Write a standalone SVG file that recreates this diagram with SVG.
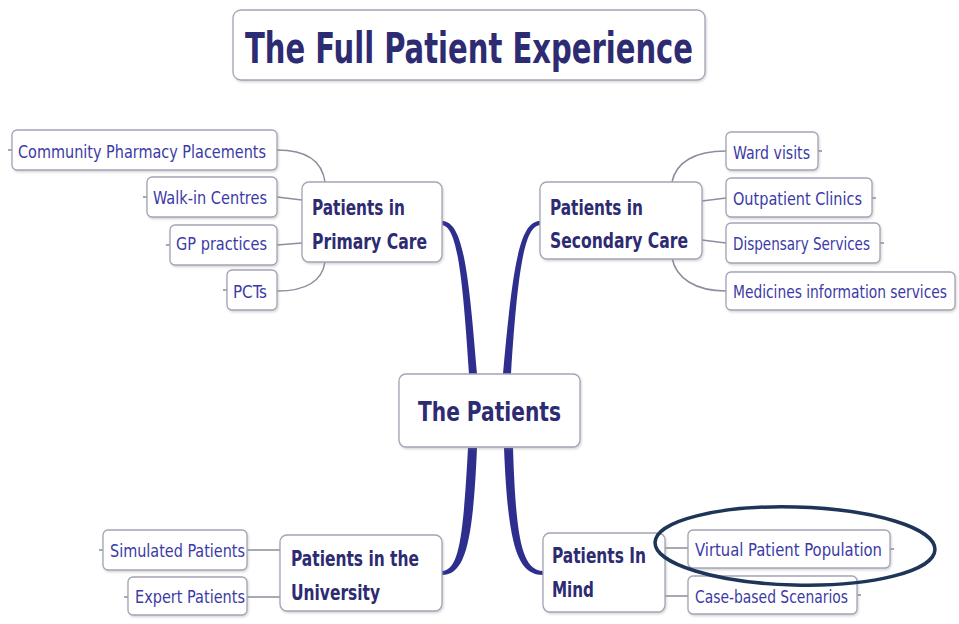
<svg xmlns="http://www.w3.org/2000/svg" width="959" height="624" viewBox="0 0 959 624">
<defs>
<filter id="sh" x="-10%" y="-10%" width="120%" height="130%">
<feDropShadow dx="1" dy="1.5" stdDeviation="1" flood-color="#888" flood-opacity="0.35"/>
</filter>
<style>
.box{fill:#fff;stroke:#a4a4b6;stroke-width:1.3;filter:url(#sh)}
.main{font-family:"DejaVu Sans Condensed","DejaVu Sans","Liberation Sans",sans-serif;font-stretch:condensed;font-weight:bold;fill:#2d2b72}
.sub{font-family:"DejaVu Sans Condensed","DejaVu Sans","Liberation Sans",sans-serif;font-stretch:condensed;fill:#3b3aa6;font-size:17px}
.thin{fill:none;stroke:#8d8d9e;stroke-width:1.5}
.thick{fill:#2e2e8e}
</style>
</defs>
<rect width="959" height="624" fill="#fff"/>

<g id="connectors">
<path class="thick" d="M441,221 C462,220 468,262 477,374 L469,374 C462,264 456,225 441,225 Z"/>
<path class="thick" d="M541,221 C520,220 513,262 503,374 L511,374 C518,264 525,225 541,225 Z"/>
<path class="thick" d="M468,448 L477,448 C473,540 466,575 442,575 L442,571 C459,570 463,540 468,448 Z"/>
<path class="thick" d="M504,448 L513,448 C516,540 522,570 543,571 L543,575 C517,575 508,545 504,448 Z"/>
<path class="thin" d="M277,150 C305,150 322,160 325,182"/>
<path class="thin" d="M277,197 L302,200"/>
<path class="thin" d="M277,245 L302,243"/>
<path class="thin" d="M277,291 C305,291 322,282 325,262"/>
<path class="thin" d="M726,151 C695,151 676,162 672,182"/>
<path class="thin" d="M702,201 L726,198"/>
<path class="thin" d="M702,240 L726,243"/>
<path class="thin" d="M672,258 C676,278 695,291 726,291"/>
<path class="thin" d="M247,550 L280,550"/>
<path class="thin" d="M247,597 L280,597"/>
<path class="thin" d="M665,548 L688,548"/>
<path class="thin" d="M665,596 L688,596"/>
<path class="thin" d="M12,150 L8,150 M147,197 L143,197 M170,245 L166,245 M227,290 L223,290 M818,151 L822,151 M872,198 L876,198 M880,243 L884,243 M103,550 L99,550 M128,597 L124,597 M890,549 L894,549 M857,595 L861,595"/>
</g>

<g id="title">
<rect class="box" x="233" y="10" width="472" height="70" rx="8"/>
<text class="main" x="245" y="63" font-size="42" textLength="448" lengthAdjust="spacingAndGlyphs">The Full Patient Experience</text>
</g>

<g id="center">
<rect class="box" x="399" y="374" width="181" height="73" rx="7"/>
<text class="main" x="418" y="421" font-size="27" textLength="143" lengthAdjust="spacingAndGlyphs">The Patients</text>
</g>

<g id="primary">
<rect class="box" x="302" y="182" width="140" height="80" rx="7"/>
<text class="main" x="312" y="215" font-size="21" textLength="93" lengthAdjust="spacingAndGlyphs">Patients in</text>
<text class="main" x="312" y="249" font-size="21" textLength="115" lengthAdjust="spacingAndGlyphs">Primary Care</text>
</g>
<g id="community">
<rect class="box" x="12" y="130" width="265" height="40" rx="5"/>
<text class="sub" x="18" y="158" textLength="248" lengthAdjust="spacingAndGlyphs">Community Pharmacy  Placements</text>
</g>
<g id="walkin">
<rect class="box" x="147" y="177" width="130" height="40" rx="5"/>
<text class="sub" x="153" y="204" textLength="114" lengthAdjust="spacingAndGlyphs">Walk-in Centres</text>
</g>
<g id="gp">
<rect class="box" x="170" y="225" width="107" height="40" rx="5"/>
<text class="sub" x="176" y="250" textLength="91" lengthAdjust="spacingAndGlyphs">GP practices</text>
</g>
<g id="pcts">
<rect class="box" x="227" y="270" width="50" height="40" rx="5"/>
<text class="sub" x="233" y="298" textLength="34" lengthAdjust="spacingAndGlyphs">PCTs</text>
</g>

<g id="secondary">
<rect class="box" x="540" y="182" width="162" height="77" rx="7"/>
<text class="main" x="550" y="215" font-size="21" textLength="93" lengthAdjust="spacingAndGlyphs">Patients in</text>
<text class="main" x="550" y="248" font-size="21" textLength="138" lengthAdjust="spacingAndGlyphs">Secondary Care</text>
</g>
<g id="ward">
<rect class="box" x="726" y="132" width="92" height="38" rx="5"/>
<text class="sub" x="733" y="159" textLength="77" lengthAdjust="spacingAndGlyphs">Ward visits</text>
</g>
<g id="outpatient">
<rect class="box" x="726" y="178" width="146" height="39" rx="5"/>
<text class="sub" x="733" y="205" textLength="129" lengthAdjust="spacingAndGlyphs">Outpatient Clinics</text>
</g>
<g id="dispensary">
<rect class="box" x="726" y="223" width="154" height="40" rx="5"/>
<text class="sub" x="733" y="250" textLength="137" lengthAdjust="spacingAndGlyphs">Dispensary Services</text>
</g>
<g id="medicines">
<rect class="box" x="726" y="272" width="229" height="38" rx="5"/>
<text class="sub" x="733" y="298" textLength="214" lengthAdjust="spacingAndGlyphs">Medicines information services</text>
</g>

<g id="university">
<rect class="box" x="280" y="535" width="162" height="76" rx="7"/>
<text class="main" x="291" y="566" font-size="21" textLength="128" lengthAdjust="spacingAndGlyphs">Patients in the</text>
<text class="main" x="291" y="600" font-size="21" textLength="89" lengthAdjust="spacingAndGlyphs">University</text>
</g>
<g id="simulated">
<rect class="box" x="103" y="530" width="144" height="40" rx="5"/>
<text class="sub" x="110" y="557" textLength="135" lengthAdjust="spacingAndGlyphs">Simulated Patients</text>
</g>
<g id="expert">
<rect class="box" x="128" y="577" width="119" height="38" rx="5"/>
<text class="sub" x="135" y="603" textLength="110" lengthAdjust="spacingAndGlyphs">Expert Patients</text>
</g>

<g id="mind">
<rect class="box" x="543" y="533" width="122" height="79" rx="7"/>
<text class="main" x="552" y="563" font-size="21" textLength="94" lengthAdjust="spacingAndGlyphs">Patients In</text>
<text class="main" x="552" y="597" font-size="21" textLength="42" lengthAdjust="spacingAndGlyphs">Mind</text>
</g>
<g id="virtual">
<rect class="box" x="688" y="530" width="202" height="38" rx="5"/>
<text class="sub" x="695" y="556" textLength="187" lengthAdjust="spacingAndGlyphs">Virtual Patient Population</text>
</g>
<g id="casebased">
<rect class="box" x="688" y="576" width="169" height="38" rx="5"/>
<text class="sub" x="695" y="603" textLength="153" lengthAdjust="spacingAndGlyphs">Case-based Scenarios</text>
</g>

<ellipse cx="795" cy="546" rx="140" ry="39" fill="none" stroke="#1f3558" stroke-width="3.5" transform="rotate(1.5 795 546)"/>
</svg>
